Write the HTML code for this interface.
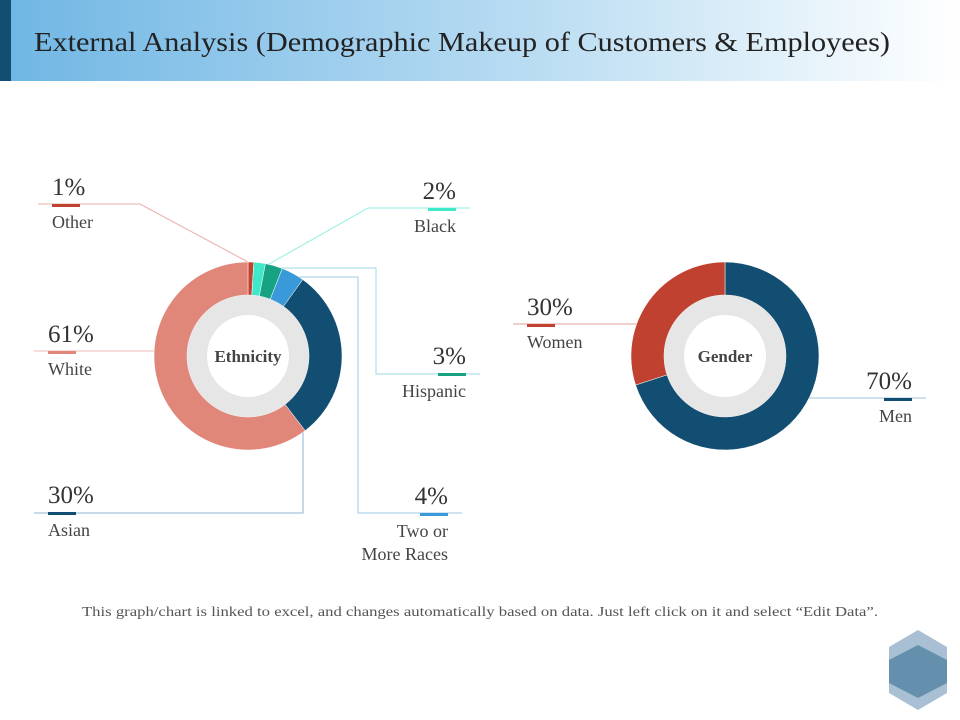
<!DOCTYPE html>
<html><head><meta charset="utf-8"><style>
body{margin:0;width:960px;height:720px;overflow:hidden;background:#fff;font-family:"Liberation Serif",serif}
svg{display:block}
</style></head><body>
<svg id="s" width="960" height="720">
<defs><linearGradient id="hg" x1="0" x2="1"><stop offset="0" stop-color="#6fb6e4"/><stop offset="0.55" stop-color="#b9dcf2"/><stop offset="1" stop-color="#ffffff"/></linearGradient></defs>
<rect x="0" y="0" width="960" height="81" fill="url(#hg)"/>
<rect x="0" y="0" width="11" height="81" fill="#124e72"/>
<text x="34" y="51" font-size="27" fill="#222" textLength="856" lengthAdjust="spacingAndGlyphs">External Analysis (Demographic Makeup of Customers &amp; Employees)</text>
<g id="lines" fill="none" stroke-width="1"></g>
<g id="ch"></g>
<text x="82" y="616" font-size="14" fill="#555" textLength="796" lengthAdjust="spacingAndGlyphs">This graph/chart is linked to excel, and changes automatically based on data. Just left click on it and select “Edit Data”.</text>
<g>
<polygon points="918,630 947,647 947,693 918,710 889,693 889,647" fill="#a9bfd3"/>
<polygon points="918,645 947,660 947,683 918,698 889,683 889,660" fill="#6590ad"/>
</g>
</svg>
<script>
const ethCats=["Other","Black","Hispanic","Two or More Races","Asian","White"];
const ethVals=[1,2,3,4,30,61];
const genCats=["Men","Women"];
const genVals=[70,30];
const ethColors=["#c0412f","#3ee8c8","#17a383","#3a9ad9","#124e72","#e0877a"];
const genColors=["#124e72","#c0412f"];
const NS="http://www.w3.org/2000/svg";
const ch=document.getElementById('ch');
function mk(t,a,p){const e=document.createElementNS(NS,t);for(const k in a)e.setAttribute(k,a[k]);(p||ch).appendChild(e);return e;}
function arc(cx,cy,r0,r1,a0,a1){
 const p=(r,a)=>[cx+r*Math.sin(a),cy-r*Math.cos(a)];
 const l=(a1-a0)>Math.PI?1:0;
 const [x0,y0]=p(r1,a0),[x1,y1]=p(r1,a1),[x2,y2]=p(r0,a1),[x3,y3]=p(r0,a0);
 return `M${x0},${y0}A${r1},${r1} 0 ${l} 1 ${x1},${y1}L${x2},${y2}A${r0},${r0} 0 ${l} 0 ${x3},${y3}Z`;
}
function donut(cx,cy,vals,cols,cats,name,label){
 const tot=vals.reduce((a,b)=>a+b,0);let a=0;
 vals.forEach((v,i)=>{const a1=a+v/tot*2*Math.PI;
  const e=mk('path',{d:arc(cx,cy,61,94,a,a1),fill:cols[i],stroke:'#fff','stroke-width':0.5});
  
  
  a=a1;});
 const g=mk('circle',{cx:cx,cy:cy,r:61,fill:'#e6e6e6'});
 
 const w=mk('circle',{cx:cx,cy:cy,r:41,fill:'#fff'});
 
 const t=mk('text',{x:cx,y:cy+6,'font-size':17,'font-weight':'bold',fill:'#444','text-anchor':'middle'});
 t.textContent=label;
}
donut(248,356,ethVals,ethColors,ethCats,'ethnicity','Ethnicity');
donut(725,356,genVals,genColors,genCats,'gender','Gender');
const L=document.getElementById('lines');
function lbl(x,y,val,cat,anchor,col,pts,lc,name){
 const pl=mk('polyline',{points:pts,stroke:lc},L);
 
 const t=mk('text',{x:x,y:y,'font-size':25,fill:'#333','text-anchor':anchor});t.textContent=val+'%';
 
 const bx=anchor==='end'?x-28:x;
 const b=mk('rect',{x:bx,y:y+9,width:28,height:3,fill:col});
 
 cat.split('|').forEach((c,i)=>{const s=mk('text',{x:x,y:y+33+i*23,'font-size':18,fill:'#444','text-anchor':anchor});s.textContent=c;
  });
}
lbl(52,195,ethVals[0],'Other','start',ethColors[0],'38,204 140,204 248,262','#e8b0a8','other');
lbl(456,199,ethVals[1],'Black','end',ethColors[1],'470,208 368,208 262,268','#8ff0e0','black');
lbl(466,364,ethVals[2],'Hispanic','end',ethColors[2],'480,374 376,374 376,268 270,268','#9fd8e6','hispanic');
lbl(448,504,ethVals[3],'Two or|More Races','end',ethColors[3],'462,513 358,513 358,277 280,277','#9fc9e6','two-or-more');
lbl(48,503,ethVals[4],'Asian','start',ethColors[4],'34,513 303,513 303,408','#8fb6d6','asian');
lbl(48,342,ethVals[5],'White','start',ethColors[5],'34,351 164,351','#eebbb3','white');
lbl(527,315,genVals[1],'Women','start',genColors[1],'513,324 642,324','#e0a098','women');
lbl(912,389,genVals[0],'Men','end',genColors[0],'926,398 796,398','#a0c0d8','men');
</script>
</body></html>
